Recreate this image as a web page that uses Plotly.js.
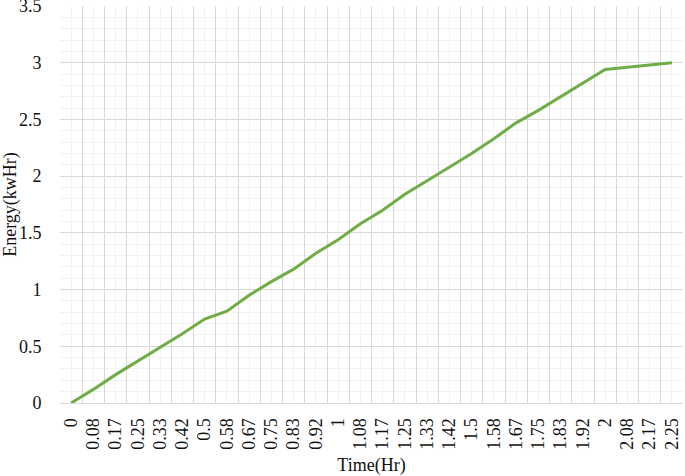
<!DOCTYPE html>
<html>
<head>
<meta charset="utf-8">
<script src="https://cdn.plot.ly/plotly-3.0.1.min.js"></script>
<style>html,body{margin:0;padding:0;background:#fff;}#chart{width:685px;height:476px;}</style>
</head>
<body>
<div id="chart"></div>
<script>
const timeLabels = ["0","0.08","0.17","0.25","0.33","0.42","0.5","0.58","0.67","0.75","0.83","0.92","1","1.08","1.17","1.25","1.33","1.42","1.5","1.58","1.67","1.75","1.83","1.92","2","2.08","2.17","2.25"];
const energy = [0,0.12,0.25,0.37,0.49,0.61,0.74,0.81,0.95,1.07,1.18,1.32,1.44,1.58,1.70,1.84,1.96,2.08,2.20,2.33,2.47,2.58,2.70,2.82,2.94,2.96,2.98,3.00];
const yTicks = [0,0.5,1,1.5,2,2.5,3,3.5];

const idx = timeLabels.map((_, i) => i);
const bounds = timeLabels.map((_, i) => i - 0.5).concat([timeLabels.length - 0.5]);
const yMax = yTicks[yTicks.length - 1];
const fontFam = "Liberation Serif";
const txtColor = "#111111";

const traces = [
  {x: idx, y: energy, type: "scatter", mode: "lines", xaxis: "x", yaxis: "y",
   line: {color: "#70ad47", width: 3}, hoverinfo: "skip"},
  {x: idx, y: energy, type: "scatter", mode: "lines", xaxis: "x2", yaxis: "y",
   line: {color: "rgba(0,0,0,0)", width: 0}, hoverinfo: "skip", showlegend: false}
];

const layout = {
  width: 685, height: 476,
  margin: {l: 60, r: 2, t: 6, b: 73},
  paper_bgcolor: "#fff", plot_bgcolor: "#fff",
  showlegend: false,
  font: {family: fontFam, size: 18, color: txtColor},
  xaxis: {
    type: "linear", range: [-0.5, timeLabels.length - 0.5],
    tickmode: "array", tickvals: bounds, ticktext: bounds.map(() => ""),
    showgrid: true, gridcolor: "#d9d9d9", gridwidth: 1,
    showline: true, linecolor: "#d9d9d9", linewidth: 1,
    ticks: "", zeroline: false, mirror: false,
    minor: {tick0: 0, dtick: 1, showgrid: true, gridcolor: "#f2f2f2", gridwidth: 1},
    fixedrange: true
  },
  xaxis2: {
    type: "linear", overlaying: "x", anchor: "y", side: "bottom",
    range: [-0.5, timeLabels.length - 0.5],
    tickmode: "array", tickvals: idx, ticktext: timeLabels,
    tickangle: -90, ticks: "outside", ticklen: 7, tickcolor: "#ffffff", tickwidth: 0,
    showgrid: false, zeroline: false, showline: false,
    tickfont: {family: fontFam, size: 18, color: txtColor},
    title: {text: "Time(Hr)", font: {family: fontFam, size: 18, color: txtColor}, standoff: 14},
    fixedrange: true
  },
  yaxis: {
    range: [0, yMax], tickmode: "array", tickvals: yTicks,
    ticktext: yTicks.map(v => v === yMax ? "" : String(v)),
    showgrid: true, gridcolor: "#d9d9d9", gridwidth: 1,
    minor: {dtick: 0.1, tick0: 0, showgrid: true, gridcolor: "#f2f2f2", gridwidth: 1},
    zeroline: false, showline: false, ticks: "outside", ticklen: 14, tickcolor: "#ffffff", tickwidth: 0,
    tickfont: {family: fontFam, size: 18, color: txtColor},
    title: {text: "Energy(kwHr)", font: {family: fontFam, size: 18, color: txtColor}, standoff: 4},
    fixedrange: true
  },
  annotations: [{
    xref: "paper", yref: "y", x: -0.025, y: yMax, xanchor: "right", yanchor: "middle",
    text: String(yMax), showarrow: false,
    font: {family: fontFam, size: 18, color: txtColor}
  }]
};

Plotly.newPlot("chart", traces, layout, {displayModeBar: false, staticPlot: true});
</script>
</body>
</html>
